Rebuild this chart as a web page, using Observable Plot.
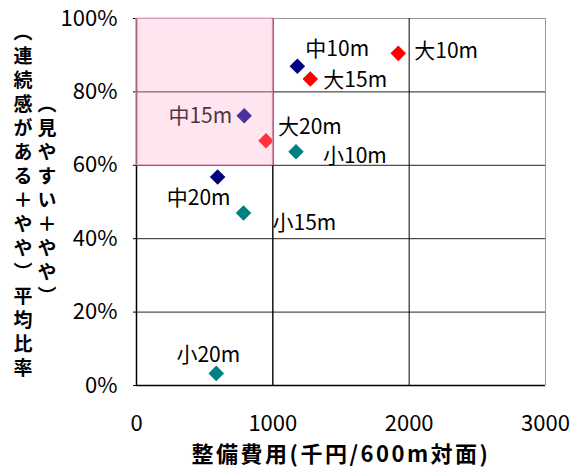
<!DOCTYPE html>
<html>
<head>
<meta charset="utf-8">
<script src="https://cdn.jsdelivr.net/npm/d3@7"></script>
<script src="https://cdn.jsdelivr.net/npm/@observablehq/plot@0.6"></script>
<style>
  html, body { margin: 0; padding: 0; background: #fff; }
  #chart { width: 575px; height: 470px; }
  svg { font-family: "Noto Sans CJK JP", "Noto Sans", sans-serif; }
</style>
</head>
<body>
<div id="chart"></div>
<script>
// ---- data ----
const labels  = ["中10m", "大10m", "大15m", "中15m", "大20m", "小10m", "中20m", "小15m", "小20m"];
const groups  = ["中", "大", "大", "中", "大", "小", "中", "小", "小"];
const costs   = [1180, 1920, 1275, 790, 950, 1170, 595, 785, 585];
const ratios  = [0.87, 0.905, 0.835, 0.735, 0.667, 0.637, 0.568, 0.47, 0.033];
const xTicks  = [0, 1000, 2000, 3000];
const yTicks  = [0, 0.2, 0.4, 0.6, 0.8, 1.0];
const highlightX = [0, 1000];
const highlightY = [0.6, 1.0];
const xTitle = "整備費用(千円/600m対面)";
const yTitleOuter = "（連続感がある＋やや）平均比率";
const yTitleInner = "（見やすい＋やや）";

// ---- build table ----
const points = labels.map((l, i) => ({label: l, group: groups[i], x: costs[i], y: ratios[i]}));
const highlight = [{x1: highlightX[0], x2: highlightX[1], y1: highlightY[0], y2: highlightY[1]}];

// label placement (pixel offsets, styling only)
const place = {
  "中10m": {dx: 8,   dy: -17, anchor: "start"},
  "大10m": {dx: 16,  dy: -2,  anchor: "start"},
  "大15m": {dx: 13,  dy: 1,   anchor: "start"},
  "中15m": {dx: -12, dy: 1,   anchor: "end"},
  "大20m": {dx: 12,  dy: -13, anchor: "start"},
  "小10m": {dx: 27,  dy: 5,   anchor: "start"},
  "中20m": {dx: -19, dy: 21,  anchor: "middle"},
  "小15m": {dx: 29,  dy: 10,  anchor: "start"},
  "小20m": {dx: -8,  dy: -18, anchor: "middle"}
};
const colors = {"大": "#FF0000", "中": "#000080", "小": "#008080"};

const labelMarks = points.map(p => Plot.text([p], {
  x: "x", y: "y", text: "label",
  dx: place[p.label].dx, dy: place[p.label].dy,
  textAnchor: place[p.label].anchor,
  fontSize: 21, fill: "#000"
}));

const chart = Plot.plot({
  width: 575,
  height: 470,
  marginLeft: 136,
  marginRight: 30,
  marginTop: 18,
  marginBottom: 85,
  x: {domain: [0, 3000]},
  y: {domain: [0, 1]},
  marks: [
    Plot.ruleY(yTicks.filter(d => d > 0 && d < 1), {stroke: "#222", strokeWidth: 1}),
    Plot.ruleY([1], {stroke: "#999"}),
    Plot.ruleX([3000], {stroke: "#999"}),
    Plot.ruleX([highlightX[1]], {stroke: "#222"}),
    Plot.ruleX([0], {stroke: "#000", strokeWidth: 1.5}),
    Plot.ruleY([0], {stroke: "#000", strokeWidth: 1.5}),
    Plot.tickX(xTicks.filter(d => d > 0 && d < 3000), {x: d => d, y1: 0, y2: 0.015, stroke: "#000"}),
    Plot.axisY({ticks: yTicks, tickFormat: d => Math.round(d * 100) + "%", tickSize: 3, tickPadding: 16, fontSize: 22, label: null, fill: "#000"}),
    Plot.axisX({ticks: xTicks, tickFormat: d => String(d), tickSize: 0, tickPadding: 30, fontSize: 22, label: null, fill: "#000"}),
    Plot.dot(points, {x: "x", y: "y", symbol: "diamond2", r: 7, fill: d => colors[d.group], stroke: "none"}),
    ...labelMarks,
    Plot.rect(highlight, {x1: "x1", x2: "x2", y1: "y1", y2: "y2", fill: "#FFAACC", fillOpacity: 0.3, stroke: "#F4A0C4", strokeWidth: 1}),
    Plot.text([xTitle], {frameAnchor: "bottom", dy: 76, fontSize: 22, fontWeight: "bold", fill: "#000"})
  ]
});

document.getElementById("chart").appendChild(chart);

// widen the x-axis title slightly
d3.select(chart).selectAll("text").filter(function() { return this.textContent === xTitle; })
  .style("letter-spacing", "2.5px");

// vertical y-axis title (two columns, Japanese vertical writing)
const svg = d3.select(chart);
const ymid = 202;
[[yTitleOuter, 23], [yTitleInner, 47]].forEach(([t, x]) => {
  svg.append("text")
    .attr("x", x).attr("y", ymid)
    .attr("text-anchor", "middle")
    .style("writing-mode", "vertical-rl")
    .style("letter-spacing", "5px")
    .attr("font-size", 19)
    .attr("font-weight", "bold")
    .attr("fill", "#000")
    .text(t);
});
</script>
</body>
</html>
